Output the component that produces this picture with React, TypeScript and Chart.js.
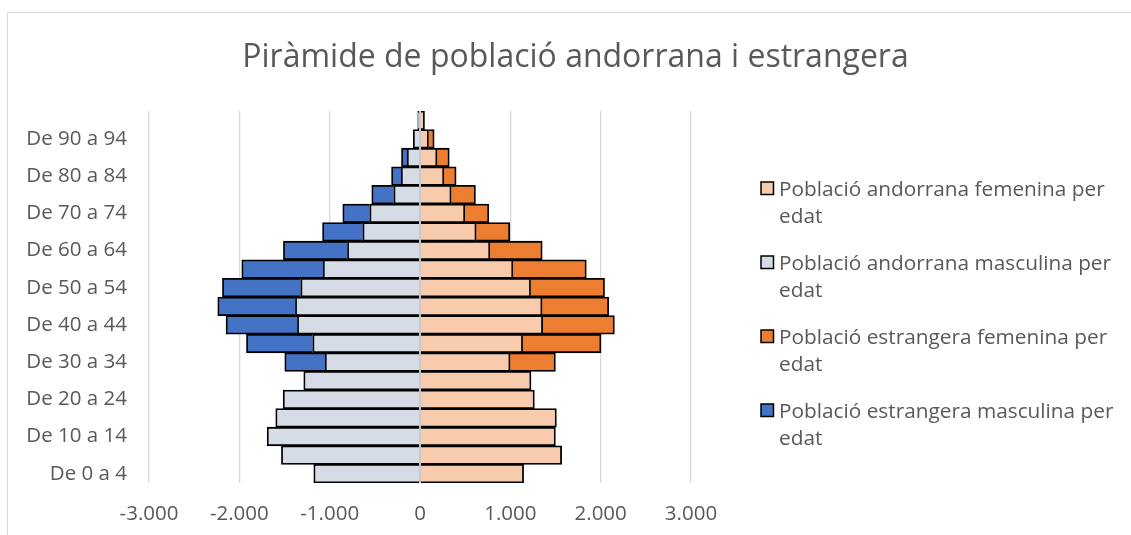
import React, { useEffect, useRef } from "react";
import { Chart, registerables } from "chart.js";

Chart.register(...registerables);

const TITLE = "Piràmide de població andorrana i estrangera";

const categories = [
  "De 0 a 4", "De 5 a 9", "De 10 a 14", "De 15 a 19", "De 20 a 24",
  "De 25 a 29", "De 30 a 34", "De 35 a 39", "De 40 a 44", "De 45 a 49",
  "De 50 a 54", "De 55 a 59", "De 60 a 64", "De 65 a 69", "De 70 a 74",
  "De 75 a 79", "De 80 a 84", "De 85 a 89", "De 90 a 94", "De 95 a 99",
];

const seriesLabels = [
  "Població andorrana femenina per edat",
  "Població andorrana masculina per edat",
  "Població estrangera femenina per edat",
  "Població estrangera masculina per edat",
];

const andorranFemale = [
  1147, 1568, 1499, 1510, 1266, 1229, 997, 1136, 1358, 1351,
  1224, 1028, 773, 622, 496, 345, 264, 188, 94, 50,
];

const andorranMale = [
  -1176, -1534, -1692, -1597, -1515, -1287, -1050, -1187, -1357, -1379,
  -1320, -1072, -803, -633, -556, -290, -208, -142, -75, -25,
];

const foreignFemale = [
  0, 0, 0, 0, 0, 0, 502, 868, 794, 738,
  819, 813, 580, 372, 266, 269, 136, 136, 63, 0,
];

const foreignMale = [
  0, 0, 0, 0, 0, 0, -447, -734, -790, -860,
  -867, -901, -709, -446, -299, -244, -107, -63, 0, 0,
];

const seriesColors = ["#F8CBAD", "#D6DCE5", "#ED7D31", "#4472C4"];

const FONT = "'Open Sans', sans-serif";
const TEXT = "#595959";

function fmt(v: number): string {
  const s = Math.abs(v).toString().replace(/\B(?=(\d{3})+(?!\d))/g, ".");
  return v < 0 ? "-" + s : s;
}

function wrap(ctx: CanvasRenderingContext2D, text: string, maxW: number): string[] {
  const words = text.split(" ");
  const lines: string[] = [];
  let cur = "";
  for (const w of words) {
    const t = cur ? cur + " " + w : w;
    if (ctx.measureText(t).width > maxW && cur) {
      lines.push(cur);
      cur = w;
    } else cur = t;
  }
  if (cur) lines.push(cur);
  return lines;
}

const decor = {
  id: "decor",
  beforeDraw(chart: any) {
    const ctx: CanvasRenderingContext2D = chart.ctx;
    ctx.save();
    ctx.fillStyle = "#ffffff";
    ctx.fillRect(0, 0, chart.width, chart.height);
    ctx.strokeStyle = "#d9d9d9";
    ctx.lineWidth = 1;
    ctx.beginPath();
    ctx.moveTo(7.5, chart.height);
    ctx.lineTo(7.5, 12.5);
    ctx.lineTo(chart.width, 12.5);
    ctx.stroke();
    ctx.fillStyle = TEXT;
    ctx.font = `32px ${FONT}`;
    ctx.textAlign = "center";
    ctx.textBaseline = "alphabetic";
    ctx.fillText(TITLE, 575.5, 67);
    ctx.restore();
  },
  afterDatasetsDraw(chart: any) {
    const ctx: CanvasRenderingContext2D = chart.ctx;
    const x0 = chart.scales.x.getPixelForValue(0);
    const { top, bottom } = chart.chartArea;
    ctx.save();
    ctx.strokeStyle = "#bfbfbf";
    ctx.lineWidth = 1.5;
    ctx.beginPath();
    ctx.moveTo(x0, top);
    ctx.lineTo(x0, bottom);
    ctx.stroke();
    ctx.restore();
  },
  afterDraw(chart: any) {
    const ctx: CanvasRenderingContext2D = chart.ctx;
    ctx.save();
    ctx.font = `20.8px ${FONT}`;
    ctx.textAlign = "left";
    ctx.textBaseline = "alphabetic";
    chart.data.datasets.forEach((ds: any, i: number) => {
      const base = 196 + 74 * i;
      const box = 12.5;
      ctx.fillStyle = ds.backgroundColor;
      ctx.fillRect(761, base - 14, box, box);
      ctx.strokeStyle = "#000";
      ctx.lineWidth = 1.5;
      ctx.strokeRect(761, base - 14, box, box);
      ctx.fillStyle = TEXT;
      const lines = wrap(ctx, ds.label, 345);
      lines.forEach((ln, k) => ctx.fillText(ln, 779, base + 27.3 * k));
    });
    ctx.restore();
  },
};

export default function App() {
  const ref = useRef<HTMLCanvasElement | null>(null);
  useEffect(() => {
    if (!ref.current) return;
    const values = [andorranFemale, andorranMale, foreignFemale, foreignMale];
    const chart = new Chart(ref.current, {
      type: "bar",
      data: {
        labels: categories,
        datasets: values.map((d, i) => ({
          label: seriesLabels[i],
          data: d,
          backgroundColor: seriesColors[i],
          borderColor: "#000000",
          borderWidth: 1.8,
          borderSkipped: "start",
          categoryPercentage: 1,
          barPercentage: 1,
        })),
      },
      options: {
        indexAxis: "y",
        animation: false,
        responsive: false,
        devicePixelRatio: 1,
        layout: { padding: { left: 0, right: 440, top: 111, bottom: 0 } },
        plugins: {
          legend: { display: false },
          title: { display: false },
          tooltip: { enabled: false },
        },
        scales: {
          x: {
            stacked: true,
            min: -3000,
            max: 3000,
            border: { display: false },
            grid: { color: "#d9d9d9", lineWidth: 1.3, drawTicks: false },
            ticks: {
              stepSize: 1000,
              padding: 19,
              color: TEXT,
              font: { family: FONT, size: 20.5 },
              callback: (v: any) => fmt(Number(v)),
            },
            afterFit: (s: any) => {
              s.height = 52;
            },
          },
          y: {
            stacked: true,
            reverse: true,
            border: { display: false },
            grid: { display: false, drawTicks: false },
            ticks: {
              autoSkip: false,
              padding: 22,
              color: TEXT,
              font: { family: FONT, size: 20.5 },
              callback: (_v: any, idx: number) => (idx % 2 === 0 ? categories[idx] : ""),
            },
            afterFit: (s: any) => {
              s.width = 149;
            },
          },
        },
      },
      plugins: [decor],
    });
    return () => chart.destroy();
  }, []);
  return (
    <div style={{ position: "absolute", left: 0, top: 0, width: 1131, height: 535, background: "#fff" }}>
      <canvas ref={ref} width={1131} height={535} style={{ width: 1131, height: 535, display: "block" }} />
    </div>
  );
}
